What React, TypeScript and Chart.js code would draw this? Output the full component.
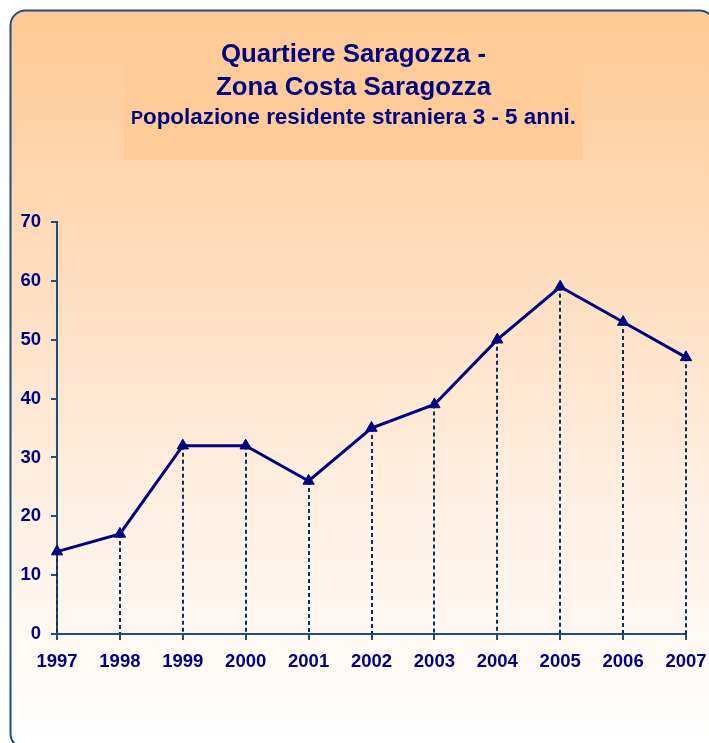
import React, { useEffect, useRef } from "react";
import { Chart, registerables } from "chart.js";

Chart.register(...registerables);

const years: string[] = ["1997", "1998", "1999", "2000", "2001", "2002", "2003", "2004", "2005", "2006", "2007"];
const residents: number[] = [14, 17, 32, 32, 26, 35, 39, 50, 59, 53, 47];
const titleLines: string[] = ["Quartiere Saragozza -", "Zona Costa Saragozza"];
const subtitleFirst = "P";
const subtitleRest = "opolazione residente straniera 3 - 5 anni.";
const yMin = 0;
const yMax = 70;
const yStep = 10;

const NAVY = "#000080";
const AXIS = "#1F4E79";
const FONT = "'Liberation Sans', Arial, sans-serif";

const backgroundPlugin = {
  id: "panelBackground",
  beforeDraw(chart: any) {
    const ctx = chart.ctx as CanvasRenderingContext2D;
    ctx.save();
    const x = 10.5, y = 10.5, w = 704, h = 738, r = 15;
    const g = ctx.createLinearGradient(0, 10, 0, 743);
    g.addColorStop(0, "#FFC994");
    g.addColorStop(0.35, "#FFDDBD");
    g.addColorStop(0.7, "#FFF1E6");
    g.addColorStop(1, "#FFFFFF");
    ctx.beginPath();
    ctx.moveTo(x + r, y);
    ctx.lineTo(x + w - r, y);
    ctx.arcTo(x + w, y, x + w, y + r, r);
    ctx.lineTo(x + w, y + h - r);
    ctx.arcTo(x + w, y + h, x + w - r, y + h, r);
    ctx.lineTo(x + r, y + h);
    ctx.arcTo(x, y + h, x, y + h - r, r);
    ctx.lineTo(x, y + r);
    ctx.arcTo(x, y, x + r, y, r);
    ctx.closePath();
    ctx.fillStyle = g;
    ctx.fill();
    ctx.lineWidth = 2;
    ctx.strokeStyle = "#1F4E79";
    ctx.stroke();

    // title box
    ctx.fillStyle = "#FFCC99";
    ctx.fillRect(124, 34, 459, 126);

    // title text
    const cx = 353.5;
    ctx.fillStyle = NAVY;
    ctx.textAlign = "center";
    ctx.textBaseline = "alphabetic";
    ctx.font = `bold 25.8px ${FONT}`;
    ctx.fillText(titleLines[0], cx, 62);
    ctx.fillText(titleLines[1], cx, 95);

    // subtitle with smaller first letter
    const bigFont = `bold 22.4px ${FONT}`;
    const smallFont = `bold 18px ${FONT}`;
    ctx.font = smallFont;
    const w1 = ctx.measureText(subtitleFirst).width;
    ctx.font = bigFont;
    const w2 = ctx.measureText(subtitleRest).width;
    const startX = cx - (w1 + w2) / 2;
    ctx.textAlign = "left";
    ctx.font = smallFont;
    ctx.fillText(subtitleFirst, startX, 124);
    ctx.font = bigFont;
    ctx.fillText(subtitleRest, startX + w1, 124);
    ctx.restore();
  },
};

const dropLinePlugin = {
  id: "dropLines",
  beforeDatasetsDraw(chart: any) {
    const ctx = chart.ctx as CanvasRenderingContext2D;
    const meta = chart.getDatasetMeta(0);
    const yScale = chart.scales.y;
    const base = yScale.getPixelForValue(yMin);
    ctx.save();
    ctx.strokeStyle = "#003366";
    ctx.lineWidth = 2;
    ctx.setLineDash([4, 3]);
    meta.data.forEach((pt: any) => {
      ctx.beginPath();
      ctx.moveTo(Math.round(pt.x), pt.y);
      ctx.lineTo(Math.round(pt.x), base);
      ctx.stroke();
    });
    ctx.restore();
  },
};

export default function App() {
  const canvasRef = useRef<HTMLCanvasElement | null>(null);

  useEffect(() => {
    if (!canvasRef.current) return;
    const chart = new Chart(canvasRef.current, {
      type: "line",
      data: {
        labels: years,
        datasets: [
          {
            label: "Popolazione residente straniera 3 - 5 anni",
            data: residents,
            borderColor: NAVY,
            backgroundColor: NAVY,
            borderWidth: 3,
            pointStyle: "triangle",
            pointRadius: 6.5,
            pointBackgroundColor: NAVY,
            pointBorderColor: NAVY,
            pointBorderWidth: 1,
            tension: 0,
            fill: false,
          },
        ],
      },
      options: {
        responsive: false,
        animation: false,
        devicePixelRatio: 1,
        layout: { padding: { left: 0, right: 23, top: 222, bottom: 0 } },
        plugins: {
          legend: { display: false },
          title: { display: false },
          tooltip: { enabled: false },
        },
        scales: {
          x: {
            offset: false,
            grid: {
              drawOnChartArea: false,
              drawTicks: true,
              tickLength: 6,
              color: AXIS,
              lineWidth: 2,
              offset: false,
            },
            border: { color: AXIS, width: 2 },
            ticks: {
              color: NAVY,
              font: { family: FONT, size: 18.5, weight: "bold" },
              padding: 11,
              maxRotation: 0,
              autoSkip: false,
            },
            afterFit: (scale: any) => {
              scale.height = 109;
              scale.paddingLeft = 0;
              scale.paddingRight = 0;
            },
          },
          y: {
            min: yMin,
            max: yMax,
            grid: {
              drawOnChartArea: false,
              drawTicks: true,
              tickLength: 6,
              color: AXIS,
              lineWidth: 2,
            },
            border: { color: AXIS, width: 2 },
            ticks: {
              stepSize: yStep,
              color: NAVY,
              font: { family: FONT, size: 18.5, weight: "bold" },
              padding: 10,
            },
            afterFit: (scale: any) => {
              scale.width = 57;
              scale.paddingTop = 0;
              scale.paddingBottom = 0;
            },
          },
        },
      },
      plugins: [backgroundPlugin, dropLinePlugin],
    });
    return () => chart.destroy();
  }, []);

  return (
    <div style={{ position: "absolute", left: 0, top: 0, width: 709, height: 743 }}>
      <canvas ref={canvasRef} width={709} height={743} style={{ display: "block", width: 709, height: 743 }} />
    </div>
  );
}
